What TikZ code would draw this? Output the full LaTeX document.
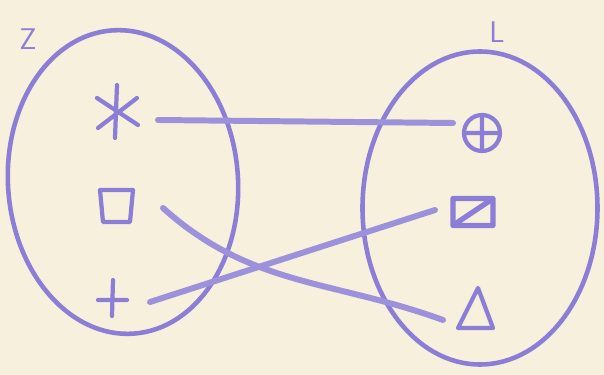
\documentclass[tikz,border=0pt]{standalone}
\usepackage{xcolor}
\usepackage{tikz}
\usetikzlibrary{positioning, calc}

\definecolor{ink}{RGB}{140,126,214}
\definecolor{paper}{RGB}{247,240,221}

\begin{document}
\begin{tikzpicture}[
  setline/.style={draw=ink, line width=2.6pt, line cap=round, line join=round},
  link/.style={draw=ink!85, line width=3.4pt, line cap=round},
  symline/.style={draw=ink, line width=2.4pt, line cap=round, line join=round},
  elem/.style={rectangle, minimum size=1.3cm, inner sep=0pt, outer sep=0pt},
  setname/.style={text=ink, font=\sffamily\fontsize{17}{17}\selectfont},
  astsym/.style={elem, path picture={
    \draw[symline, shift={(path picture bounding box.center)}] (0,0.54) -- (-0.04,-0.52)
      (-0.4,0.28) -- (0.42,-0.26) (0.4,0.28) -- (-0.38,-0.32);}},
  sqsym/.style={elem, path picture={
    \draw[symline, shift={(path picture bounding box.center)}]
      (-0.3,0.3) -- (0.36,0.3) -- (0.3,-0.34) -- (-0.24,-0.34) -- cycle;}},
  plsym/.style={elem, path picture={
    \draw[symline, shift={(path picture bounding box.center)}] (0.02,0.36) -- (0,-0.36)
      (-0.28,-0.04) -- (0.3,-0.04);}},
  opsym/.style={elem, path picture={
    \draw[symline, shift={(path picture bounding box.center)}] (0,0) circle (0.36)
      (0,0.34) -- (0,-0.34) (-0.34,0) -- (0.34,0);}},
  bxsym/.style={elem, path picture={
    \draw[symline, line width=3pt, shift={(path picture bounding box.center)}]
      (-0.4,-0.27) rectangle (0.4,0.27) (-0.3,-0.2) -- (0.3,0.2);}},
  trsym/.style={elem, path picture={
    \draw[symline, shift={(path picture bounding box.center)}]
      (0.06,0.44) -- (0.36,-0.36) -- (-0.34,-0.36) -- cycle;}}
]

% Paper
\fill[paper] (0,0) rectangle (12.08,7.5);

% Set Z
\draw[setline, rotate around={4:(2.46,3.86)}] (2.46,3.86) ellipse [x radius=2.30, y radius=3.04];
\node[setname] (zname) at (0.56,6.72) {Z};

% Set L
\draw[setline] (9.60,3.34) ellipse [x radius=2.35, y radius=3.13];
\node[setname] (lname) at (9.94,6.86) {L};

% Elements
\node[astsym] (ast) at (2.34,5.26) {};
\node[sqsym] (sq) at (2.30,3.40) {};
\node[plsym] (pl) at (2.24,1.54) {};
\node[opsym] (op) at (9.64,4.84) {};
\node[bxsym] (bx) at (9.46,3.26) {};
\node[trsym] (tr) at (9.50,1.30) {};

% Mapping
\draw[link] ([xshift=0.82cm, yshift=-0.16cm]ast.center) -- ([xshift=-0.58cm, yshift=0.20cm]op.center);
\draw[link] ([xshift=0.96cm, yshift=-0.06cm]sq.center) to[out=-42, in=160] ([xshift=-0.64cm, yshift=-0.20cm]tr.center);
\draw[link] ([xshift=0.76cm, yshift=-0.08cm]pl.center) -- ([xshift=-0.76cm, yshift=0.04cm]bx.center);

\end{tikzpicture}
\end{document}
